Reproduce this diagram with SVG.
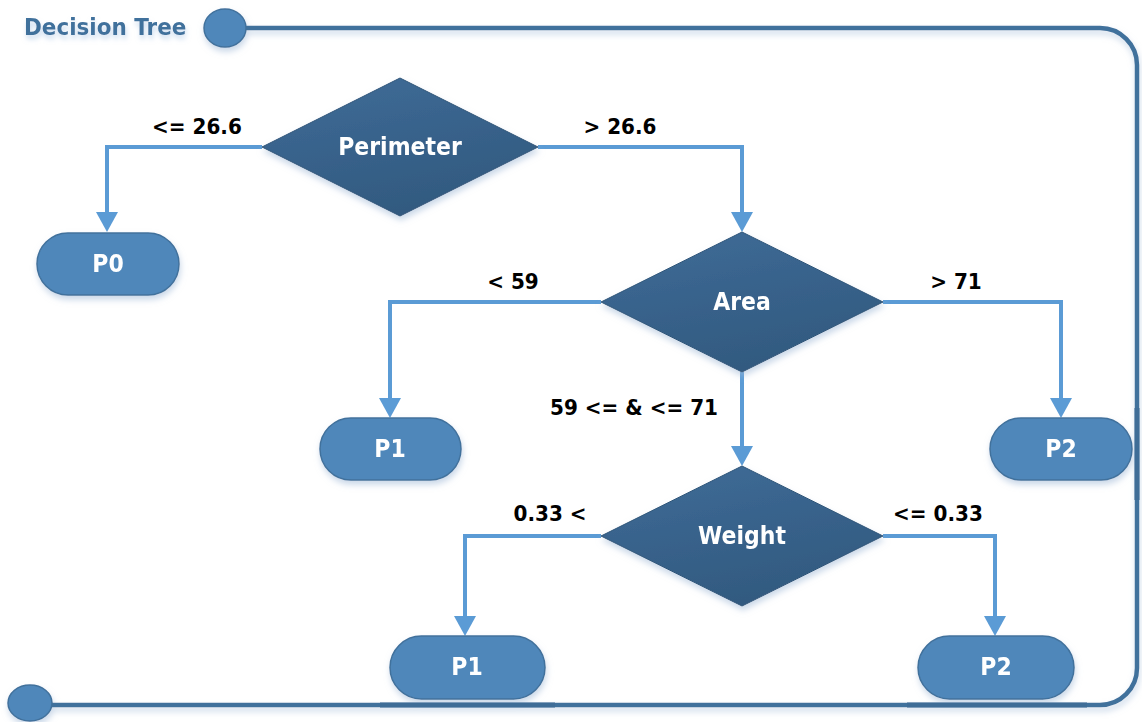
<svg xmlns="http://www.w3.org/2000/svg" width="1142" height="722" viewBox="0 0 1142 722">
  <defs>
    <linearGradient id="diamondFill" x1="0" y1="0" x2="0.4" y2="1">
      <stop offset="0" stop-color="#3f6c98"/>
      <stop offset="1" stop-color="#325a80"/>
    </linearGradient>
    <filter id="shadow" x="-20%" y="-20%" width="140%" height="150%">
      <feGaussianBlur in="SourceAlpha" stdDeviation="3"/>
      <feOffset dx="1" dy="4" result="b"/>
      <feFlood flood-color="#9fb8d6" flood-opacity="0.55"/>
      <feComposite in2="b" operator="in"/>
      <feMerge><feMergeNode/><feMergeNode in="SourceGraphic"/></feMerge>
    </filter>
    <filter id="glow" x="-10%" y="-40%" width="120%" height="200%">
      <feGaussianBlur in="SourceAlpha" stdDeviation="2.5"/>
      <feOffset dx="1" dy="4" result="b"/>
      <feFlood flood-color="#a8c4e4" flood-opacity="0.6"/>
      <feComposite in2="b" operator="in"/>
      <feMerge><feMergeNode/><feMergeNode in="SourceGraphic"/></feMerge>
    </filter>
    <!-- arrowhead drawn along +x; tip sits 18px past the path end -->
    <marker id="arrow" markerUnits="userSpaceOnUse" markerWidth="20" markerHeight="22" viewBox="0 0 20 22" refX="2" refY="11" orient="auto">
      <path d="M0,0 L20,11 L0,22 Z" fill="#5b9bd5"/>
    </marker>
  </defs>
  <style>
    .frame { fill: none; stroke: #41719c; stroke-width: 4.5; }
    .dot { fill: #4f87ba; stroke: #41719c; stroke-width: 1.5; }
    .diamond { fill: url(#diamondFill); stroke: #2f5679; stroke-width: 1; }
    .term { fill: #4f87ba; stroke: #41719c; stroke-width: 1.5; }
    .edge { fill: none; stroke: #5b9bd5; stroke-width: 4; }
    .nodeText, .label, .title { font-family: "DejaVu Sans", "Liberation Sans", sans-serif; font-weight: bold;
      transform-box: fill-box; transform-origin: 50% 80%; transform: scaleY(1.1); }
    .nodeText { font-size: 22px; fill: #ffffff; text-anchor: middle; }
    .label { font-size: 20px; fill: #000000; text-anchor: middle; }
    .title { font-size: 21.5px; fill: #41719c; }
  </style>

  <!-- outer frame -->
  <g id="frame" filter="url(#shadow)">
    <path class="frame" d="M246,28 H1100 A37,37 0 0 1 1137,65 V668 A37,37 0 0 1 1100,705 H50"/>
    <ellipse class="dot" cx="225" cy="28" rx="21" ry="19"/>
    <ellipse class="dot" cx="30" cy="703" rx="22" ry="18"/>
  </g>
  <text class="title" x="24" y="35" filter="url(#glow)">Decision Tree</text>

  <!-- connectors -->
  <g id="connectors">
    <path class="edge" d="M262,147 H107 V214" marker-end="url(#arrow)"/>
    <path class="edge" d="M538,147 H742 V214" marker-end="url(#arrow)"/>
    <path class="edge" d="M601,302 H390 V400" marker-end="url(#arrow)"/>
    <path class="edge" d="M883,302 H1061 V400" marker-end="url(#arrow)"/>
    <path class="edge" d="M742,372 V448" marker-end="url(#arrow)"/>
    <path class="edge" d="M601,536 H465 V618" marker-end="url(#arrow)"/>
    <path class="edge" d="M883,536 H995 V618" marker-end="url(#arrow)"/>
    <text class="label" x="197" y="134">&lt;= 26.6</text>
    <text class="label" x="620" y="134">&gt; 26.6</text>
    <text class="label" x="513" y="289">&lt; 59</text>
    <text class="label" x="956" y="289">&gt; 71</text>
    <text class="label" x="634" y="415">59 &lt;= &amp; &lt;= 71</text>
    <text class="label" x="550" y="521">0.33 &lt;</text>
    <text class="label" x="938" y="521">&lt;= 0.33</text>
  </g>

  <!-- decision nodes -->
  <g id="perimeter" filter="url(#shadow)">
    <polygon class="diamond" points="400,78 538,147 400,216 262,147"/>
    <text class="nodeText" x="400" y="155">Perimeter</text>
  </g>
  <g id="area" filter="url(#shadow)">
    <polygon class="diamond" points="742,232 883,302 742,372 601,302"/>
    <text class="nodeText" x="742" y="310">Area</text>
  </g>
  <g id="weight" filter="url(#shadow)">
    <polygon class="diamond" points="742,466 883,536 742,606 601,536"/>
    <text class="nodeText" x="742" y="544">Weight</text>
  </g>

  <!-- outcome nodes -->
  <g id="p0" filter="url(#shadow)">
    <rect class="term" x="37" y="233" width="142" height="62" rx="31"/>
    <text class="nodeText" x="108" y="272">P0</text>
  </g>
  <g id="p1-area" filter="url(#shadow)">
    <rect class="term" x="320" y="418" width="141" height="62" rx="31"/>
    <text class="nodeText" x="390" y="457">P1</text>
  </g>
  <g id="p2-area" filter="url(#shadow)">
    <rect class="term" x="990" y="418" width="142" height="62" rx="31"/>
    <text class="nodeText" x="1061" y="457">P2</text>
  </g>
  <g id="p1-weight" filter="url(#shadow)">
    <rect class="term" x="390" y="636" width="155" height="63" rx="31.5"/>
    <text class="nodeText" x="467" y="675">P1</text>
  </g>
  <g id="p2-weight" filter="url(#shadow)">
    <rect class="term" x="918" y="636" width="156" height="63" rx="31.5"/>
    <text class="nodeText" x="996" y="675">P2</text>
  </g>

  <!-- frame pieces that sit on top of the neighbouring outcome nodes -->
  <path d="M380,705 H555 M907,705 H1087 M1137,408 V500" stroke="#3f6d97" stroke-width="5" fill="none"/>
</svg>
